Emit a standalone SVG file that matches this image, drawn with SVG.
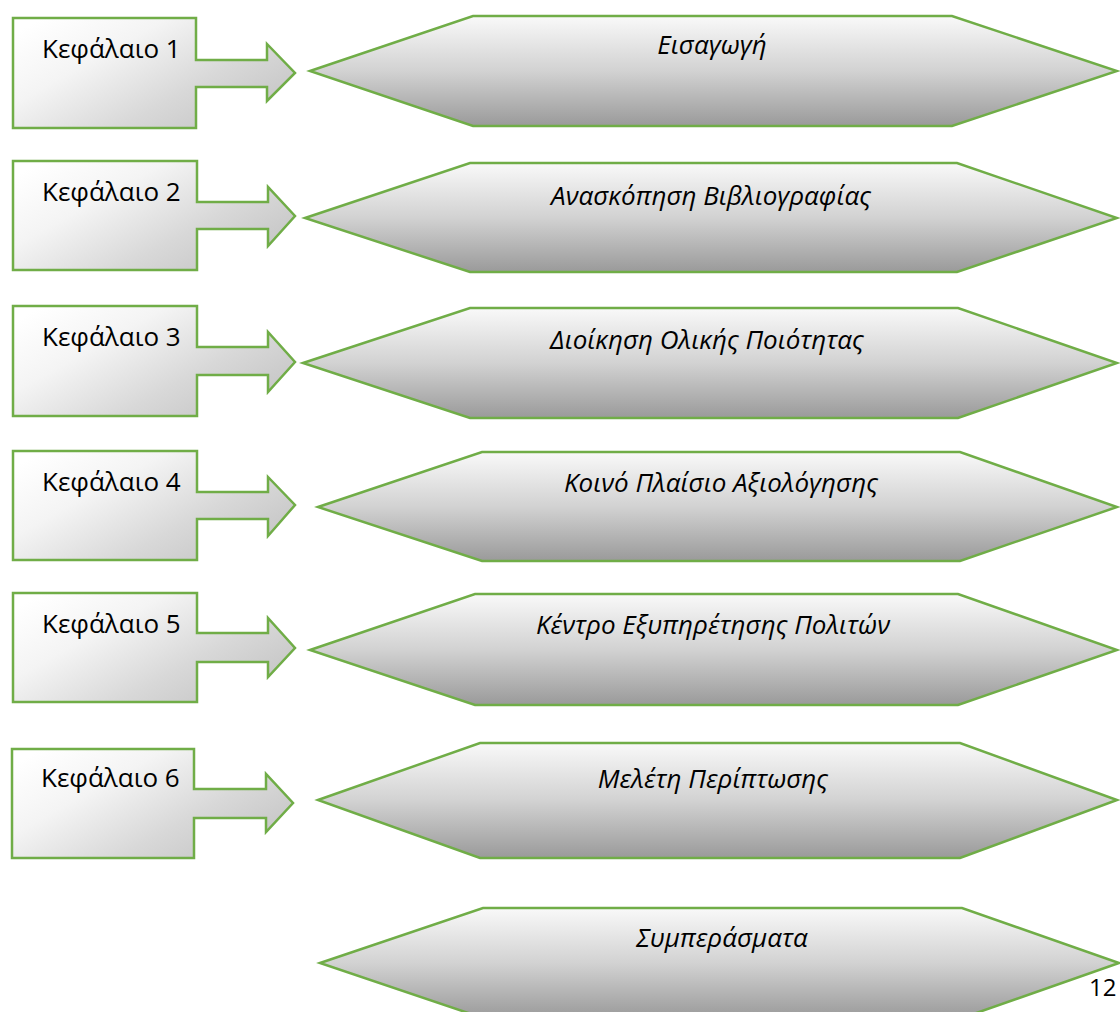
<svg xmlns="http://www.w3.org/2000/svg" width="1120" height="1012" viewBox="0 0 1120 1012">
<defs>
<linearGradient id="gBox" x1="0" y1="0.15" x2="1" y2="0.85">
<stop offset="0" stop-color="#ffffff"/>
<stop offset="0.3" stop-color="#f4f4f4"/>
<stop offset="0.65" stop-color="#d8d8d8"/>
<stop offset="1" stop-color="#c2c2c2"/>
</linearGradient>
<linearGradient id="gHex" x1="0" y1="0" x2="0" y2="1">
<stop offset="0" stop-color="#f9f9f9"/>
<stop offset="0.5" stop-color="#d2d2d2"/>
<stop offset="1" stop-color="#9a9a9a"/>
</linearGradient>
</defs>
<style>
.box{fill:url(#gBox);stroke:#70ad47;stroke-width:2.5;stroke-linejoin:miter}
.hex{fill:url(#gHex);stroke:#70ad47;stroke-width:2.5;stroke-linejoin:miter}
.lbl{font-family:"Open Sans","Noto Sans","DejaVu Sans",sans-serif;font-size:26px;fill:#000}
.ttl{font-family:"Open Sans","Noto Sans","DejaVu Sans",sans-serif;font-size:26px;font-style:italic;fill:#000;text-anchor:middle}
.pg{font-family:"Open Sans","Noto Sans","DejaVu Sans",sans-serif;font-size:24px;fill:#000}
</style>
<rect width="1120" height="1012" fill="#ffffff"/>
<g id="connectors"></g>
<g id="ch1"><path class="box" d="M13,18 H196 V60 H267 V44 L295,73 L267,101 V87 H196 V128 H13 Z"/><text class="lbl" x="42" y="58">Κεφάλαιο 1</text></g>
<g id="ch2"><path class="box" d="M13,161 H197 V202 H268 V187 L295,216 L268,246 V229 H197 V270 H13 Z"/><text class="lbl" x="42" y="201">Κεφάλαιο 2</text></g>
<g id="ch3"><path class="box" d="M13,306 H197 V347 H268 V332 L295,362 L268,392 V375 H197 V416 H13 Z"/><text class="lbl" x="42" y="346">Κεφάλαιο 3</text></g>
<g id="ch4"><path class="box" d="M13,451 H197 V492 H268 V477 L295,505 L268,536 V519 H197 V560 H13 Z"/><text class="lbl" x="42" y="491">Κεφάλαιο 4</text></g>
<g id="ch5"><path class="box" d="M13,593 H197 V633 H268 V618 L295,648 L268,677 V662 H197 V702 H13 Z"/><text class="lbl" x="42" y="633">Κεφάλαιο 5</text></g>
<g id="ch6"><path class="box" d="M12,749 H194 V789 H266 V774 L293,803 L266,832 V818 H194 V858 H12 Z"/><text class="lbl" x="41" y="787">Κεφάλαιο 6</text></g>
<g id="t1"><path class="hex" d="M310,71 L473,16 H952 L1117,71 L952,126 H473 Z"/><text class="ttl" x="712" y="54">Εισαγωγή</text></g>
<g id="t2"><path class="hex" d="M305,218 L470,163 H957 L1117,218 L957,272 H470 Z"/><text class="ttl" x="711" y="205">Ανασκόπηση Βιβλιογραφίας</text></g>
<g id="t3"><path class="hex" d="M303,363 L470,308 H958 L1117,363 L958,418 H470 Z"/><text class="ttl" x="707" y="349">Διοίκηση Ολικής Ποιότητας</text></g>
<g id="t4"><path class="hex" d="M318,507 L482,452 H960 L1117,507 L960,561 H482 Z"/><text class="ttl" x="721" y="492">Κοινό Πλαίσιο Αξιολόγησης</text></g>
<g id="t5"><path class="hex" d="M310,650 L475,594 H958 L1117,650 L958,705 H475 Z"/><text class="ttl" x="713" y="634">Κέντρο Εξυπηρέτησης Πολιτών</text></g>
<g id="t6"><path class="hex" d="M318,800 L480,743 H960 L1117,800 L960,858 H480 Z"/><text class="ttl" x="713" y="788">Μελέτη Περίπτωσης</text></g>
<g id="t7"><path class="hex" d="M320,963 L483,908 H962 L1119,963 L962,1018 H483 Z"/><text class="ttl" x="722" y="947">Συμπεράσματα</text></g>
<text class="pg" x="1089" y="996">12</text>
</svg>
